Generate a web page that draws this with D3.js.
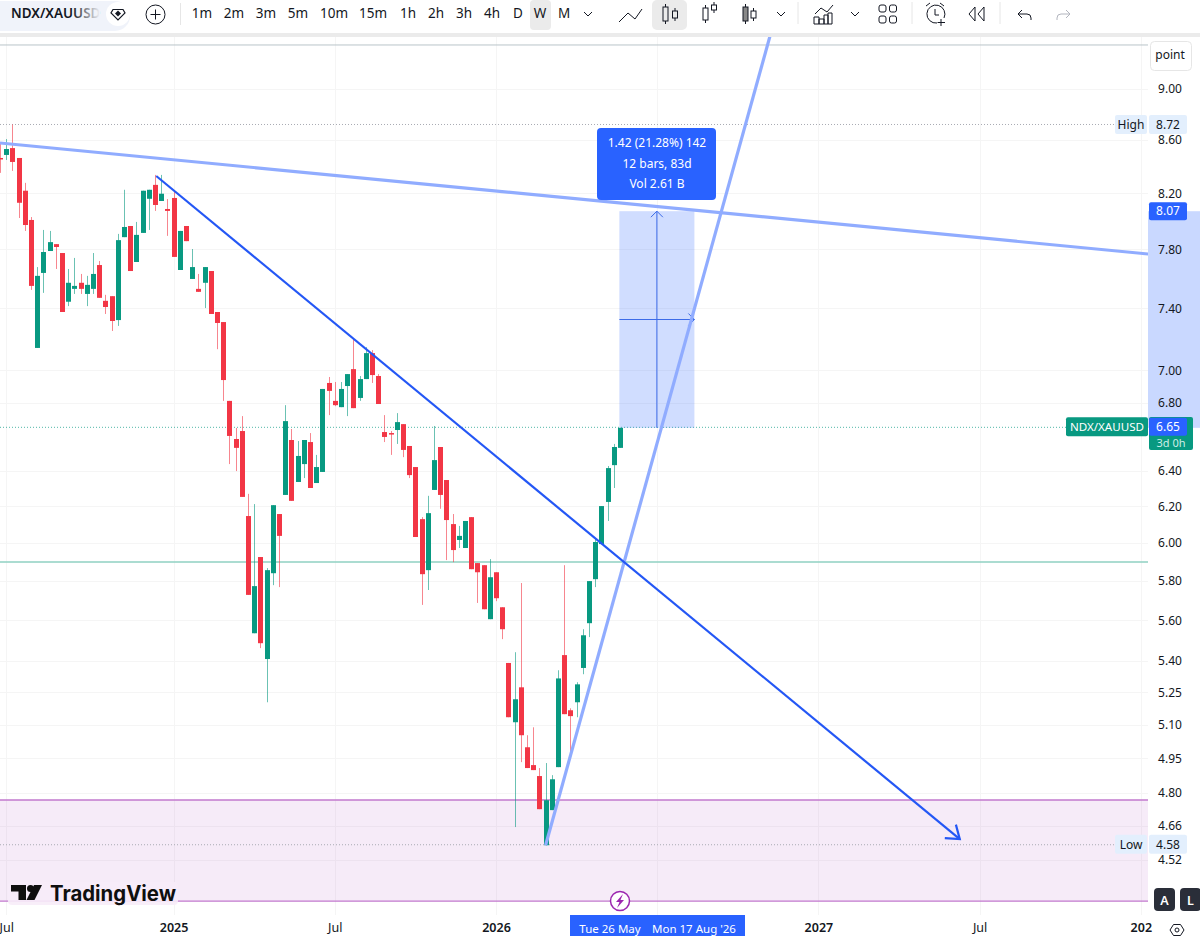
<!DOCTYPE html>
<html><head><meta charset="utf-8">
<script src="https://cdn.jsdelivr.net/npm/d3@7"></script>
<style>html,body{margin:0;padding:0;background:#fff;overflow:hidden}svg{display:block}text{font-family:"Noto Sans",sans-serif}</style>
</head><body><div id="chart"></div>
<script>
const opens=[8.463,8.486,8.538,8.463,8.219,8.007,7.142,7.637,7.788,7.836,7.774,7.443,7.529,7.570,7.495,7.529,7.691,7.449,7.480,7.322,7.885,7.964,7.712,7.915,8.160,8.262,8.144,8.086,8.166,7.657,7.964,7.596,7.529,7.570,7.650,7.375,7.309,6.812,6.584,6.631,6.146,5.535,5.925,5.409,5.840,6.157,6.263,6.578,6.336,6.438,6.566,6.330,6.393,6.922,6.812,6.774,6.903,7.008,6.830,6.946,7.109,6.965,6.625,6.619,6.637,6.672,6.543,6.421,6.129,5.856,6.291,6.537,6.347,6.102,6.016,5.973,6.140,5.893,5.882,5.605,5.845,5.665,5.390,5.112,5.274,4.999,4.920,4.872,4.58,4.726,4.911,5.428,5.167,5.204,5.366,5.585,5.809,5.994,6.224,6.432,6.532];
const highs=[8.584,8.607,8.72,8.463,8.277,8.028,7.677,7.936,7.929,7.836,7.774,7.664,7.740,7.630,7.617,7.774,7.719,7.489,7.480,7.908,8.226,7.964,7.993,8.219,8.226,8.336,8.336,8.158,8.211,7.929,7.964,7.802,7.630,7.677,7.650,7.375,7.309,6.812,6.649,6.720,6.269,6.212,5.925,5.867,6.206,6.157,6.786,6.643,6.572,6.578,6.619,6.491,6.885,6.959,6.928,6.928,6.977,7.199,6.965,7.147,7.128,6.977,6.726,6.631,6.738,6.672,6.543,6.421,6.140,6.258,6.661,6.537,6.347,6.157,6.092,6.119,6.140,5.893,5.882,5.914,5.845,5.665,5.390,5.442,5.789,5.053,5.089,4.907,4.929,4.876,5.355,5.882,5.176,5.298,5.555,5.799,6.027,6.201,6.427,6.555,6.65];
const lows=[8.351,8.448,8.366,8.021,7.929,7.522,7.142,7.502,7.788,7.664,7.375,7.414,7.495,7.495,7.414,7.495,7.469,7.362,7.251,7.284,7.885,7.650,7.712,7.915,7.936,8.072,8.144,7.894,7.747,7.657,7.857,7.596,7.509,7.401,7.362,7.134,6.812,6.438,6.398,6.252,5.728,5.535,5.462,5.204,5.778,5.768,6.263,6.230,6.336,6.358,6.302,6.330,6.393,6.726,6.780,6.774,6.720,6.768,6.812,6.946,6.922,6.793,6.566,6.491,6.555,6.478,6.358,6.032,5.677,5.753,6.291,6.186,5.909,5.898,5.973,5.973,5.861,5.687,5.655,5.605,5.696,5.506,5.135,4.655,4.933,4.907,4.898,4.730,4.58,4.726,4.911,5.149,4.968,5.135,5.336,5.516,5.768,5.994,6.119,6.302,6.532];
const closes=[8.455,8.531,8.433,8.131,7.971,7.549,7.617,7.781,7.850,7.816,7.375,7.570,7.549,7.529,7.556,7.630,7.469,7.408,7.316,7.864,7.957,7.650,7.901,8.219,8.226,8.115,8.197,8.072,7.747,7.929,7.857,7.677,7.509,7.677,7.362,7.303,6.940,6.602,6.532,6.252,5.728,5.773,5.486,5.856,6.206,6.038,6.690,6.230,6.485,6.578,6.302,6.421,6.885,6.873,6.786,6.885,6.977,6.768,6.946,7.109,6.971,6.793,6.596,6.613,6.684,6.520,6.375,6.032,5.835,6.162,6.461,6.263,6.124,5.962,6.038,6.119,5.861,5.845,5.655,5.819,5.711,5.555,5.135,5.218,5.053,4.907,4.898,4.730,4.768,4.858,5.316,5.149,5.140,5.288,5.525,5.799,6.005,6.201,6.415,6.537,6.65];

const priceTicks=[9.00,8.60,8.20,7.80,7.40,7.00,6.80,6.40,6.20,6.00,5.80,5.60,5.40,5.25,5.10,4.95,4.80,4.66,4.52];
const timeTickIdx=[1,28,54,80,106,132,158,184];
const timeTickLabels=["Jul","2025","Jul","2026","","2027","Jul","202"];
const boldTicks=["2025","2026","2027","202"];
const timeframes=["1m","2m","3m","5m","10m","15m","1h","2h","3h","4h","D","W","M"];
const timeframeX=[202,234,266,298,334,373,408,436,464,492,518,540,564];

const highPrice=8.72,lowPrice=4.58,lastPrice=6.65,targetPrice=8.07;
const zoneTop=4.769,zoneBottom=4.357,supportPrice=5.899,topLinePrice=9.362;
const lineA={i:[0,185.2],p:[8.577,7.767]};
const lineB={i:[25.2,154.8],p:[8.328,4.605]};
const lineC={i:[88,124.2],p:[4.58,9.438]};
const rangeIdx=[99.9,112];
const rangeLines=["1.42 (21.28%) 142","12 bars, 83d","Vol 2.61 B"];

const W=1200,H=936,plotR=1148;
const UP="#089981",DN="#f23645",BLUE="#2962ff",LB="#90acff",GRID="#f5f5f5",INK="#131722";
const x=d3.scaleLinear().domain([0,100]).range([0,620]);
const y=d3.scaleLog().domain([8.6,4.52]).range([140,860]);

const svg=d3.select("#chart").append("svg").attr("width",W).attr("height",H);
const defs=svg.append("defs");
defs.append("clipPath").attr("id","plot").append("rect").attr("x",0).attr("y",37).attr("width",plotR).attr("height",878);
const fade=defs.append("linearGradient").attr("id","fade");
fade.append("stop").attr("offset","0%").attr("stop-color","#f0f3fa").attr("stop-opacity",0);
fade.append("stop").attr("offset","100%").attr("stop-color","#f0f3fa").attr("stop-opacity",1);

// ---------- plot ----------
const plot=svg.append("g").attr("clip-path","url(#plot)");
plot.append("g").selectAll("line").data(priceTicks).join("line")
 .attr("x1",0).attr("x2",plotR).attr("y1",d=>Math.round(y(d))+.5).attr("y2",d=>Math.round(y(d))+.5).attr("stroke",GRID);
plot.append("g").selectAll("line").data(timeTickIdx).join("line")
 .attr("x1",d=>Math.round(x(d))+.5).attr("x2",d=>Math.round(x(d))+.5).attr("y1",37).attr("y2",915).attr("stroke",GRID);
plot.append("rect").attr("x",0).attr("width",plotR).attr("y",y(zoneTop)).attr("height",y(zoneBottom)-y(zoneTop)).attr("fill","#ba68c8").attr("fill-opacity",.13);
[zoneTop,zoneBottom].forEach(p=>plot.append("line").attr("x1",0).attr("x2",plotR).attr("y1",y(p)).attr("y2",y(p)).attr("stroke","#c278ce").attr("stroke-width",1.3));
plot.append("line").attr("x1",0).attr("x2",plotR).attr("y1",y(topLinePrice)).attr("y2",y(topLinePrice)).attr("stroke","#b9c4c9");
plot.append("line").attr("x1",0).attr("x2",plotR).attr("y1",y(supportPrice)).attr("y2",y(supportPrice)).attr("stroke","#8fd0c2").attr("stroke-width",1.6);
plot.append("line").attr("x1",0).attr("x2",1115).attr("y1",y(highPrice)).attr("y2",y(highPrice)).attr("stroke","#a9acb4").attr("stroke-dasharray","1 2");
plot.append("line").attr("x1",0).attr("x2",1115).attr("y1",y(lowPrice)-.5).attr("y2",y(lowPrice)-.5).attr("stroke","#a9acb4").attr("stroke-dasharray","1 2");
plot.append("line").attr("x1",0).attr("x2",1066).attr("y1",y(lastPrice)-.5).attr("y2",y(lastPrice)-.5).attr("stroke",UP).attr("stroke-opacity",.7).attr("stroke-dasharray","1 2");
const rx0=x(rangeIdx[0]),rx1=x(rangeIdx[1]),rmid=(rx0+rx1)/2,ry0=y(targetPrice),ry1=y(lastPrice),rym=(ry0+ry1)/2;
plot.append("rect").attr("x",rx0).attr("y",ry0).attr("width",rx1-rx0).attr("height",ry1-ry0).attr("fill",BLUE).attr("fill-opacity",.22);
const ar=plot.append("g").attr("stroke","#3c6be8").attr("fill","none").attr("stroke-width",1);
ar.append("path").attr("d",`M${rmid} ${ry1}V${ry0}M${rmid-6} ${ry0+6}L${rmid} ${ry0}L${rmid+6} ${ry0+6}`);
ar.append("path").attr("d",`M${rx0} ${rym}H${rx1}M${rx1-6} ${rym-6}L${rx1} ${rym}L${rx1-6} ${rym+6}`);
const idx=d3.range(opens.length);
const candles=plot.append("g");
candles.selectAll("line").data(idx).join("line")
 .attr("x1",i=>Math.round(x(i))+.5).attr("x2",i=>Math.round(x(i))+.5)
 .attr("y1",i=>y(highs[i])).attr("y2",i=>y(lows[i]))
 .attr("stroke",i=>closes[i]>=opens[i]?UP:DN).attr("stroke-opacity",.6);
candles.selectAll("rect").data(idx).join("rect")
 .attr("x",i=>Math.round(x(i))-2).attr("width",5)
 .attr("y",i=>y(Math.max(opens[i],closes[i])))
 .attr("height",i=>Math.max(1.5,Math.abs(y(opens[i])-y(closes[i]))))
 .attr("fill",i=>closes[i]>=opens[i]?UP:DN);
const seg=(l,c,w)=>plot.append("line").attr("x1",x(l.i[0])).attr("y1",y(l.p[0])).attr("x2",x(l.i[1])).attr("y2",y(l.p[1])).attr("stroke",c).attr("stroke-width",w);
seg(lineA,LB,3.2);
seg(lineC,LB,3.2);
seg(lineB,"#2457f5",2.2);
(function(){
 const ex=x(lineB.i[1]),ey=y(lineB.p[1]),a=Math.atan2(ey-y(lineB.p[0]),ex-x(lineB.i[0])),L=15,s=.62;
 plot.append("path").attr("fill","none").attr("stroke","#2457f5").attr("stroke-width",2.2)
 .attr("d",`M${ex-L*Math.cos(a-s)} ${ey-L*Math.sin(a-s)}L${ex} ${ey}L${ex-L*Math.cos(a+s)} ${ey-L*Math.sin(a+s)}`);
})();
const box=svg.append("g");
box.append("rect").attr("x",597).attr("y",128).attr("width",119).attr("height",72).attr("rx",4).attr("fill",BLUE);
box.selectAll("text").data(rangeLines).join("text").attr("x",657).attr("y",(d,i)=>147+i*20.5).attr("text-anchor","middle").attr("fill","#fff").attr("font-size",12).text(d=>d);

// ---------- logo ----------
const logo=svg.append("g");
logo.append("rect").attr("x",8).attr("y",882).attr("width",170).attr("height",23).attr("rx",4).attr("fill","#f7ecf8").attr("opacity",.9);
logo.append("path").attr("fill","#0f0f0f").attr("d","M11 885H26V900H18.5V891.5H11ZM42 885L34.500 900H26.500L34 885Z");
logo.append("circle").attr("cx",30.5).attr("cy",888.5).attr("r",3.5).attr("fill","#0f0f0f");
logo.append("text").attr("x",50).attr("y",900.500).attr("font-size",21).attr("font-weight",700).attr("fill","#0f0f0f").attr("textLength",126).attr("lengthAdjust","spacingAndGlyphs").attr("style","font-family:Inter,'Noto Sans',sans-serif").text("TradingView");

const bolt=svg.append("g").attr("transform","translate(620,901)");
bolt.append("circle").attr("r",9.5).attr("fill","#fff").attr("stroke","#9c27b0").attr("stroke-width",1.5);
bolt.append("path").attr("d","M3 -7L-4 1H-0.500L-3 7L4 -1H0.500Z").attr("fill","#9c27b0");

// ---------- price axis ----------
const axisPanel=svg.append("g");
axisPanel.append("rect").attr("x",plotR).attr("y",37).attr("width",W-plotR).attr("height",H-37).attr("fill","#fff");
axisPanel.append("rect").attr("x",plotR).attr("y",ry0).attr("width",W-plotR).attr("height",ry1-ry0).attr("fill",BLUE).attr("fill-opacity",.25);
const yAxis=d3.axisRight(y).tickValues(priceTicks).tickFormat(d3.format(".2f")).tickSize(0).tickPadding(0);
const yG=axisPanel.append("g").attr("transform","translate(1170,0)").call(yAxis);
yG.select(".domain").remove();
yG.selectAll("text").attr("text-anchor","middle").attr("font-size",12).attr("fill",INK).attr("font-family","Noto Sans");
axisPanel.append("rect").attr("x",1150.500).attr("y",41.500).attr("width",41).attr("height",29).attr("rx",4).attr("fill","#fff").attr("stroke","#e6e6e6");
axisPanel.append("text").attr("x",1170).attr("y",59).attr("text-anchor","middle").attr("font-size",12).attr("fill",INK).text("point");

function tag(g,xx,w,yc,h,fill,col,txt,fs){
 g.append("rect").attr("x",xx).attr("y",yc-h/2).attr("width",w).attr("height",h).attr("rx",2).attr("fill",fill);
 g.append("text").attr("x",xx+w/2).attr("y",yc+4.3).attr("text-anchor","middle").attr("font-size",fs||12).attr("fill",col).text(txt);
}
const tags=svg.append("g");
const fmt=d3.format(".2f");
tag(tags,1115,32,y(highPrice),19,"#e3effd",INK,"High");
tag(tags,1149,38,y(highPrice),19,"#e3effd",INK,fmt(highPrice));
tag(tags,1115,32,y(lowPrice)-1,19,"#e3effd",INK,"Low");
tag(tags,1149,38,y(lowPrice)-1,19,"#e3effd",INK,fmt(lowPrice));
tag(tags,1149,38,y(targetPrice),18,BLUE,"#fff",fmt(targetPrice));
tags.append("rect").attr("x",1149).attr("y",417).attr("width",44).attr("height",33).attr("rx",2).attr("fill",UP);
tags.append("text").attr("x",1171).attr("y",447).attr("text-anchor","middle").attr("font-size",11).attr("fill","#cdeee6").text("3d 0h");
tag(tags,1066,82,y(lastPrice)-1,19,UP,"#fff","NDX/XAUUSD",11.6);
tag(tags,1149,38,y(lastPrice)-1,18,BLUE,"#fff",fmt(lastPrice));

// ---------- time axis ----------
const timeG=svg.append("g").attr("transform","translate(0,915)");
const labelAt=new Map(timeTickIdx.map((d,i)=>[d,timeTickLabels[i]]));
const xAxis=d3.axisBottom(x).tickValues(timeTickIdx.filter(d=>labelAt.get(d))).tickFormat(d=>labelAt.get(d)).tickSize(0).tickPadding(8);
timeG.call(xAxis);
timeG.select(".domain").remove();
timeG.selectAll("text").attr("font-size",12.5).attr("fill",INK).attr("font-family","Noto Sans")
 .attr("font-weight",function(){return boldTicks.includes(this.textContent)?600:400});
svg.append("rect").attr("x",570).attr("y",915).attr("width",175).attr("height",21).attr("fill",BLUE);
svg.append("text").attr("x",610).attr("y",932.500).attr("text-anchor","middle").attr("font-size",11.5).attr("fill","#fff").text("Tue 26 May");
svg.append("text").attr("x",694).attr("y",932.500).attr("text-anchor","middle").attr("font-size",11.5).attr("fill","#fff").text("Mon 17 Aug '26");
[["A",1154],["L",1180]].forEach(([t,xx])=>{
 svg.append("rect").attr("x",xx).attr("y",888).attr("width",21).attr("height",23).attr("rx",4).attr("fill","#2a2e39");
 svg.append("text").attr("x",xx+10.500).attr("y",904.500).attr("text-anchor","middle").attr("font-size",12.5).attr("font-weight",600).attr("fill","#fff").text(t);
});
svg.append("path").attr("fill","none").attr("stroke",INK).attr("d","M1170 930L1173.500 924.500H1180.500L1184 930L1180.500 935.500H1173.500Z");
svg.append("circle").attr("cx",1177).attr("cy",930).attr("r",2).attr("fill","none").attr("stroke",INK);

// ---------- toolbar ----------
const tb=svg.append("g");
tb.append("rect").attr("width",W).attr("height",33).attr("fill","#fff");
tb.append("rect").attr("y",33).attr("width",W).attr("height",4).attr("fill","#ebebeb");
tb.append("path").attr("d","M0 1H115A14 14 0 0 1 115 31H0Z").attr("fill","#f0f3fa");
tb.append("text").attr("x",11).attr("y",18).attr("font-size",13.500).attr("font-weight",600).attr("fill",INK).text("NDX/XAUUSD");
tb.append("rect").attr("x",72).attr("y",4).attr("width",28).attr("height",24).attr("fill","url(#fade)");
tb.append("circle").attr("cx",118).attr("cy",14).attr("r",12).attr("fill","#fff");
tb.append("path").attr("d","M113 9.500H123L125 13L118 20L111 13Z").attr("fill","none").attr("stroke",INK).attr("stroke-width",1.2);
tb.append("path").attr("d","M118 10.500L121 13.500L118 16.500L115 13.500Z").attr("fill",INK);
tb.append("circle").attr("cx",155.500).attr("cy",14.500).attr("r",9.500).attr("fill","none").attr("stroke",INK);
tb.append("path").attr("d","M155.500 9.500V19.500M150.500 14.500H160.500").attr("stroke",INK);
tb.append("line").attr("x1",180.500).attr("x2",180.500).attr("y1",3).attr("y2",25).attr("stroke","#e6e6e6");
tb.append("rect").attr("x",530).attr("y",0).attr("width",21).attr("height",30).attr("rx",4).attr("fill","#ebebeb");
tb.append("rect").attr("x",652).attr("y",0).attr("width",35).attr("height",30).attr("rx",5).attr("fill","#ebebeb");
tb.selectAll(".tf").data(timeframes).join("text").attr("class","tf")
 .attr("x",(d,i)=>timeframeX[i]).attr("y",18).attr("text-anchor","middle").attr("font-size",13.500).attr("fill",INK).text(d=>d);
const ic=tb.append("g").attr("fill","none").attr("stroke",INK).attr("stroke-width",1);
const chev=cx=>`M${cx-4} 12L${cx} 16L${cx+4} 12`;
ic.append("path").attr("d",chev(588));
ic.append("path").attr("d","M619 22L628 13L635 19L642 9");
const candleIcon=(a,ay0,ay1,b,by0,by1,fill)=>{
 ic.append("rect").attr("x",a-2.500).attr("y",ay0+3).attr("width",5).attr("height",ay1-ay0-6).attr("fill",fill||"none");
 ic.append("path").attr("d",`M${a} ${ay0}V${ay0+3}M${a} ${ay1-3}V${ay1}`);
 ic.append("rect").attr("x",b-2.500).attr("y",by0+3).attr("width",5).attr("height",by1-by0-6);
 ic.append("path").attr("d",`M${b} ${by0}V${by0+3}M${b} ${by1-3}V${by1}`);
};
candleIcon(665.500,4,24,675,8,21);
candleIcon(705.500,5,23,714,2,13);
candleIcon(745.500,4,24,753.500,8,21,"#888");
ic.append("path").attr("d",chev(781));
tb.append("line").attr("x1",798).attr("x2",798).attr("y1",2).attr("y2",24).attr("stroke","#e6e6e6");
ic.append("path").attr("d","M815 14L821 8L827 12L833 5M814 24V17H819V24M819 24V19H824V24M824 24V15H828V24M828 24V13H832V24M814 24H832");
ic.append("path").attr("d",chev(855));
[[879,5],[889.500,5],[879,16],[889.500,16]].forEach(([a,b])=>ic.append("rect").attr("x",a).attr("y",b).attr("width",7).attr("height",7).attr("rx",2));
tb.append("line").attr("x1",912).attr("x2",912).attr("y1",2).attr("y2",24).attr("stroke","#e6e6e6");
ic.append("path").attr("d","M944 18A9 9 0 1 0 937 23M935 9V15H939M926 6L930 3M944 6L940 3M941 19V26M937.500 22.500H945");
ic.append("path").attr("d","M975 7L969 14L975 21ZM984 7L978 14L984 21Z");
tb.append("line").attr("x1",1000).attr("x2",1000).attr("y1",2).attr("y2",24).attr("stroke","#e6e6e6");
ic.append("path").attr("d","M1022 10L1018 14L1022 18M1018 14H1027A4 4 0 0 1 1031 18V20");
tb.append("path").attr("fill","none").attr("stroke","#b2b5be").attr("d","M1066 10L1070 14L1066 18M1070 14H1061A4 4 0 0 0 1057 18V20");
</script></body></html>
